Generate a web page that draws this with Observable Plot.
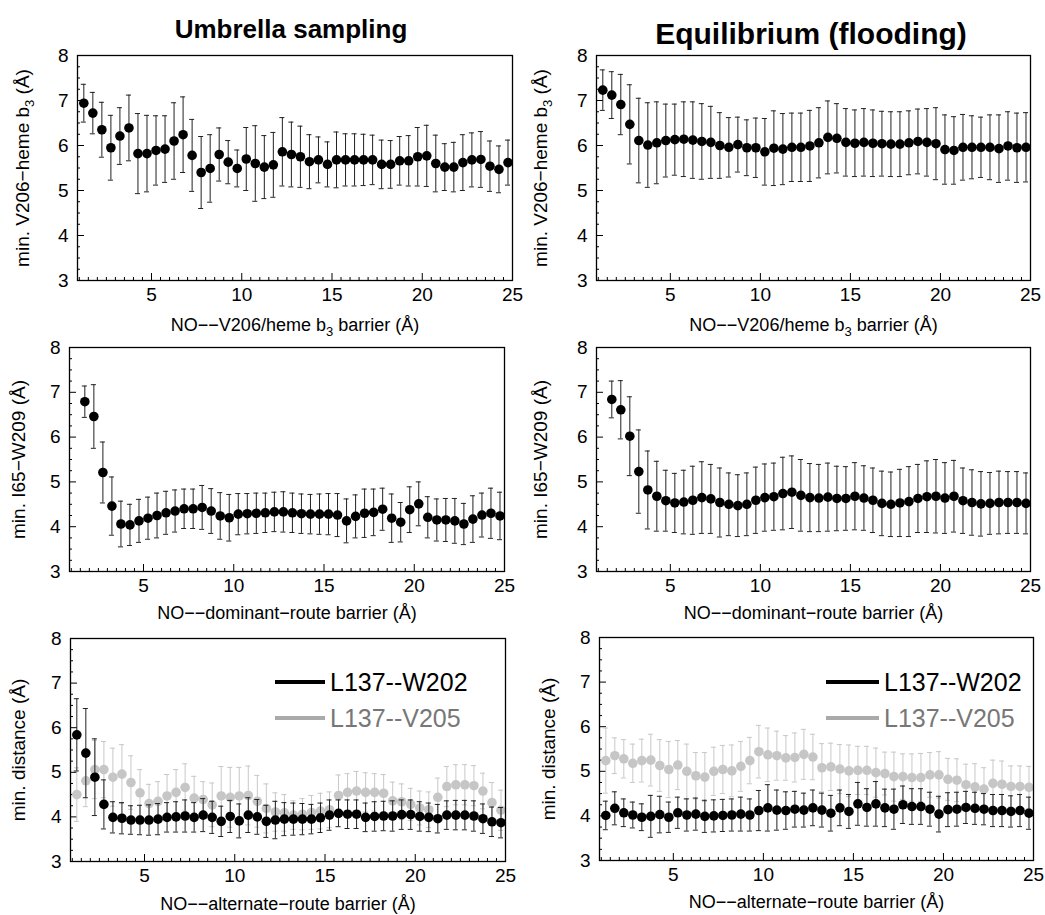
<!DOCTYPE html>
<html><head><meta charset="utf-8">
<script src="https://cdn.jsdelivr.net/npm/d3@7"></script>
<script src="https://cdn.jsdelivr.net/npm/@observablehq/plot@0.6"></script>
<style>
body{margin:0;background:#fff;font-family:"Liberation Sans",Arial,Helvetica,sans-serif;}
#chart{position:relative;width:1045px;height:915px;overflow:hidden;}
.title{position:absolute;font-weight:bold;transform:translate(-50%,-50%);white-space:nowrap;color:#000;}
.legline{position:absolute;height:4px;}
.legtxt{position:absolute;font-size:25px;transform:translateY(-50%);white-space:nowrap;}
</style></head><body><div id="chart"></div>
<script>
// ---- data ----
const barrierA = [1.25,1.75,2.25,2.75,3.25,3.75,4.25,4.75,5.25,5.75,6.25,6.75,7.25,7.75,8.25,8.75,9.25,9.75,10.25,10.75,11.25,11.75,12.25,12.75,13.25,13.75,14.25,14.75,15.25,15.75,16.25,16.75,17.25,17.75,18.25,18.75,19.25,19.75,20.25,20.75,21.25,21.75,22.25,22.75,23.25,23.75,24.25,24.75];
const barrierB = [1.75,2.25,2.75,3.25,3.75,4.25,4.75,5.25,5.75,6.25,6.75,7.25,7.75,8.25,8.75,9.25,9.75,10.25,10.75,11.25,11.75,12.25,12.75,13.25,13.75,14.25,14.75,15.25,15.75,16.25,16.75,17.25,17.75,18.25,18.75,19.25,19.75,20.25,20.75,21.25,21.75,22.25,22.75,23.25,23.75,24.25,24.75];

// Umbrella sampling: min. V206-heme b3
const usHemeMean = [6.94,6.72,6.35,5.95,6.21,6.39,5.82,5.82,5.89,5.92,6.10,6.24,5.78,5.40,5.49,5.80,5.63,5.49,5.70,5.60,5.52,5.57,5.86,5.80,5.75,5.64,5.68,5.58,5.68,5.68,5.68,5.68,5.68,5.58,5.58,5.66,5.66,5.75,5.77,5.60,5.52,5.52,5.62,5.68,5.69,5.54,5.47,5.62];
const usHemeErr  = [0.42,0.46,0.61,0.72,0.63,0.73,0.89,0.85,0.77,0.74,0.85,0.84,0.80,0.80,0.75,0.59,0.48,0.41,0.70,0.84,0.70,0.72,0.76,0.72,0.68,0.60,0.51,0.50,0.62,0.58,0.58,0.57,0.55,0.54,0.53,0.54,0.56,0.65,0.68,0.63,0.52,0.55,0.62,0.60,0.62,0.56,0.52,0.50];
// Equilibrium: min. V206-heme b3
const eqHemeMean = [7.23,7.12,6.91,6.47,6.11,6.01,6.06,6.11,6.13,6.14,6.12,6.09,6.07,6.00,5.96,6.02,5.95,5.95,5.86,5.94,5.92,5.96,5.96,5.99,6.06,6.18,6.16,6.07,6.05,6.07,6.05,6.04,6.03,6.03,6.06,6.09,6.07,6.04,5.91,5.89,5.96,5.96,5.96,5.96,5.93,5.99,5.95,5.96];
const eqHemeErr  = [0.45,0.52,0.67,0.88,0.94,0.94,0.91,0.81,0.79,0.83,0.85,0.84,0.80,0.73,0.66,0.61,0.62,0.66,0.74,0.83,0.79,0.76,0.76,0.79,0.78,0.81,0.77,0.75,0.74,0.75,0.74,0.72,0.72,0.72,0.71,0.72,0.75,0.80,0.77,0.75,0.73,0.70,0.67,0.72,0.75,0.76,0.77,0.77];
// Umbrella sampling: min. I65-W209
const usDomMean = [6.79,6.46,5.21,4.46,4.06,4.04,4.13,4.19,4.25,4.31,4.35,4.40,4.40,4.43,4.35,4.24,4.20,4.28,4.29,4.30,4.31,4.33,4.33,4.31,4.29,4.28,4.28,4.28,4.26,4.13,4.23,4.30,4.32,4.39,4.19,4.10,4.38,4.51,4.21,4.15,4.15,4.13,4.06,4.17,4.26,4.30,4.24];
const usDomErr  = [0.35,0.71,0.68,0.65,0.51,0.46,0.48,0.47,0.50,0.48,0.47,0.44,0.44,0.49,0.50,0.52,0.52,0.46,0.45,0.45,0.44,0.44,0.45,0.44,0.44,0.44,0.45,0.46,0.48,0.49,0.48,0.54,0.52,0.47,0.54,0.44,0.51,0.49,0.46,0.47,0.48,0.50,0.46,0.52,0.49,0.56,0.53];
// Equilibrium: min. I65-W209
const eqDomMean = [6.84,6.61,6.02,5.23,4.82,4.68,4.58,4.53,4.55,4.59,4.65,4.62,4.54,4.50,4.47,4.50,4.59,4.65,4.67,4.74,4.77,4.70,4.65,4.64,4.66,4.63,4.63,4.68,4.64,4.59,4.52,4.50,4.53,4.56,4.63,4.67,4.68,4.64,4.68,4.58,4.54,4.51,4.52,4.54,4.54,4.54,4.52];
const eqDomErr  = [0.41,0.65,0.88,0.93,0.87,0.78,0.68,0.66,0.71,0.76,0.80,0.77,0.77,0.70,0.69,0.70,0.74,0.75,0.75,0.81,0.81,0.80,0.76,0.75,0.76,0.72,0.71,0.75,0.72,0.72,0.72,0.72,0.75,0.78,0.76,0.80,0.82,0.79,0.80,0.73,0.73,0.72,0.69,0.70,0.69,0.69,0.68];
// Umbrella sampling: alternate route
const usW202Mean = [5.84,5.43,4.89,4.28,3.99,3.97,3.93,3.93,3.93,3.95,3.99,4.00,4.02,3.99,4.04,3.99,3.90,4.01,3.91,4.04,4.00,3.90,3.93,3.95,3.95,3.95,3.95,3.98,4.04,4.08,4.06,4.06,3.99,4.01,4.02,4.02,4.05,4.05,4.01,3.99,3.96,4.04,4.04,4.04,4.02,3.96,3.89,3.87];
const usW202Err  = [0.81,1.00,0.86,0.55,0.35,0.35,0.32,0.33,0.34,0.35,0.33,0.34,0.36,0.33,0.37,0.36,0.34,0.36,0.38,0.39,0.39,0.36,0.42,0.37,0.36,0.35,0.33,0.33,0.34,0.30,0.32,0.32,0.32,0.33,0.33,0.34,0.33,0.33,0.33,0.32,0.32,0.32,0.33,0.33,0.34,0.33,0.33,0.34];
const usV205Mean = [4.50,4.81,5.06,5.06,4.89,4.96,4.77,4.54,4.30,4.35,4.47,4.55,4.66,4.42,4.39,4.27,4.47,4.44,4.47,4.48,4.35,4.19,4.11,4.09,4.04,4.06,4.10,4.13,4.16,4.48,4.55,4.58,4.55,4.55,4.53,4.36,4.34,4.28,4.20,4.16,4.44,4.68,4.72,4.72,4.70,4.58,4.32,4.15];
const usV205Err  = [0.60,0.58,0.65,0.63,0.65,0.66,0.60,0.52,0.43,0.44,0.48,0.51,0.53,0.49,0.40,0.49,0.66,0.67,0.64,0.66,0.58,0.55,0.43,0.41,0.32,0.35,0.38,0.40,0.40,0.46,0.42,0.44,0.44,0.42,0.42,0.42,0.40,0.36,0.38,0.40,0.43,0.45,0.45,0.45,0.45,0.40,0.45,0.45];
// Equilibrium: alternate route
const eqW202Mean = [4.01,4.17,4.07,4.02,3.97,3.99,4.03,3.97,4.07,4.02,4.04,3.99,4.00,4.01,4.02,4.04,4.02,4.12,4.18,4.13,4.12,4.15,4.13,4.18,4.13,4.06,4.18,4.10,4.27,4.19,4.27,4.18,4.15,4.25,4.21,4.21,4.15,4.04,4.14,4.15,4.19,4.17,4.15,4.12,4.12,4.10,4.12,4.06];
const eqW202Err  = [0.32,0.37,0.31,0.29,0.30,0.47,0.41,0.34,0.35,0.36,0.36,0.36,0.36,0.36,0.36,0.38,0.36,0.45,0.52,0.45,0.42,0.40,0.38,0.40,0.38,0.40,0.40,0.38,0.48,0.42,0.50,0.42,0.45,0.42,0.40,0.40,0.38,0.40,0.38,0.38,0.36,0.36,0.35,0.36,0.36,0.35,0.36,0.36];
const eqV205Mean = [5.24,5.35,5.28,5.18,5.24,5.25,5.13,5.04,5.14,5.00,4.90,4.87,5.00,5.04,5.01,5.11,5.24,5.44,5.37,5.35,5.30,5.31,5.38,5.32,5.08,5.10,5.05,5.01,5.02,5.02,4.97,4.95,4.88,4.88,4.86,4.86,4.92,4.92,4.82,4.80,4.70,4.65,4.60,4.73,4.71,4.66,4.66,4.64];
const eqV205Err  = [0.73,0.40,0.43,0.43,0.48,0.58,0.58,0.63,0.55,0.61,0.52,0.55,0.54,0.54,0.58,0.56,0.52,0.59,0.60,0.55,0.50,0.55,0.56,0.51,0.54,0.53,0.55,0.58,0.54,0.54,0.55,0.48,0.55,0.51,0.53,0.54,0.50,0.52,0.47,0.48,0.46,0.52,0.48,0.52,0.52,0.46,0.46,0.47];

const xTicks = [5,10,15,20,25];
const yTicks = [3,4,5,6,7,8];
const titles = ["Umbrella sampling","Equilibrium (flooding)"];
const legendLabels = ["L137--W202","L137--V205"];

// ---- drawing ----
const chart = document.getElementById("chart");
const FONT = '"Liberation Sans", Arial, Helvetica, sans-serif';
const xMinor = d3.range(1, 25, 0.5).filter(v => v % 5 !== 0);
const yMinor = d3.range(3, 8, 0.25).filter(v => v % 1 !== 0);

function seriesMarks(xs, ys, es, dotColor, barColor) {
  const rows = xs.map((x, i) => ({x, y: ys[i], e: es[i]}));
  const cap = 0.14;
  return [
    Plot.ruleX(rows, {x: "x", y1: d => d.y - d.e, y2: d => d.y + d.e, stroke: barColor, strokeWidth: 1}),
    Plot.ruleY(rows, {y: d => d.y + d.e, x1: d => d.x - cap, x2: d => d.x + cap, stroke: barColor, strokeWidth: 1}),
    Plot.ruleY(rows, {y: d => d.y - d.e, x1: d => d.x - cap, x2: d => d.x + cap, stroke: barColor, strokeWidth: 1}),
    Plot.dot(rows, {x: "x", y: "y", r: 4.8, fill: dotColor, stroke: "none"})
  ];
}

function fixSubscript(svg) {
  const ns = "http://www.w3.org/2000/svg";
  svg.querySelectorAll("text").forEach(t => {
    const s = t.textContent;
    if (!s.includes("₃") || t.children.length > 1) return;
    const [a, b] = s.split("₃");
    while (t.firstChild) t.removeChild(t.firstChild);
    const t1 = document.createElementNS(ns, "tspan"); t1.textContent = a;
    const t2 = document.createElementNS(ns, "tspan"); t2.textContent = "3";
    t2.setAttribute("dy", "5"); t2.setAttribute("font-size", "13");
    const t3 = document.createElementNS(ns, "tspan"); t3.textContent = b;
    t3.setAttribute("dy", "-5");
    t.append(t1, t2, t3);
  });
}

function panel(cfg) {
  const [fx0, fy0, fx1, fy1] = cfg.frame;
  const iw = fx1 - fx0, ih = fy1 - fy0;
  const mL = 72, mR = 12, mT = 10, mB = 54;
  const marks = [
    Plot.ruleX(xMinor, {stroke: "#000", strokeWidth: 1, insetTop: ih - 3}),
    Plot.ruleX(xTicks, {stroke: "#000", strokeWidth: 1, insetTop: ih - 7}),
    Plot.ruleY(yMinor, {stroke: "#000", strokeWidth: 1, insetRight: iw - 3}),
    Plot.ruleY(yTicks, {stroke: "#000", strokeWidth: 1, insetRight: iw - 7})
  ];
  cfg.series.forEach(s => marks.push(...seriesMarks(cfg.xs, s.mean, s.err, s.dot, s.bar)));
  marks.push(
    Plot.frame({stroke: "#000", strokeWidth: 1.3}),
    Plot.axisX({ticks: xTicks, tickFormat: d3.format("d"), tickSize: 0, tickPadding: 7, fontSize: 19, label: null}),
    Plot.axisY({ticks: yTicks, tickFormat: d3.format("d"), tickSize: 0, tickPadding: 9, fontSize: 19, label: null}),
    Plot.text([cfg.xLabel], {frameAnchor: "bottom", dy: cfg.xdy, fontSize: 18, lineAnchor: "middle", textAnchor: "middle"}),
    Plot.text([cfg.yLabel], {frameAnchor: "left", dx: cfg.ydx, rotate: -90, fontSize: 19, lineAnchor: "middle", textAnchor: "middle"})
  );
  const svg = Plot.plot({
    width: iw + mL + mR, height: ih + mT + mB,
    marginLeft: mL, marginRight: mR, marginTop: mT, marginBottom: mB,
    x: {domain: [0.9, 25]}, y: {domain: [3, 8]},
    style: `background: transparent; overflow: visible; font-family: ${FONT}; font-size: 19px; color: #000; max-width: none;`,
    marks
  });
  svg.style.position = "absolute";
  svg.style.left = (fx0 - mL) + "px";
  svg.style.top = (fy0 - mT) + "px";
  fixSubscript(svg);
  chart.appendChild(svg);
}

const black = {dot: "#000", bar: "#222"};
const gray = {dot: "#c6c6c6", bar: "#c8c8c8"};
const hemeX = "NO\u2212\u2212V206/heme b₃ barrier (Å)";
const hemeY = "min. V206\u2212heme b₃ (Å)";
const domX = "NO\u2212\u2212dominant\u2212route barrier (Å)";
const domY = "min. I65\u2212W209 (Å)";
const altX = "NO\u2212\u2212alternate\u2212route barrier (Å)";
const altY = "min. distance (Å)";

panel({frame: [77, 55, 512, 280], xs: barrierA, xLabel: hemeX, yLabel: hemeY, xdy: 45, ydx: -55,
  series: [{mean: usHemeMean, err: usHemeErr, ...black}]});
panel({frame: [596, 55, 1030, 280], xs: barrierA, xLabel: hemeX, yLabel: hemeY, xdy: 45, ydx: -56,
  series: [{mean: eqHemeMean, err: eqHemeErr, ...black}]});
panel({frame: [69, 347, 504, 571], xs: barrierB, xLabel: domX, yLabel: domY, xdy: 42, ydx: -51,
  series: [{mean: usDomMean, err: usDomErr, ...black}]});
panel({frame: [596, 347, 1030, 571], xs: barrierB, xLabel: domX, yLabel: domY, xdy: 42, ydx: -56,
  series: [{mean: eqDomMean, err: eqDomErr, ...black}]});
panel({frame: [70, 638, 505, 861], xs: barrierA, xLabel: altX, yLabel: altY, xdy: 43, ydx: -52,
  series: [{mean: usV205Mean, err: usV205Err, ...gray}, {mean: usW202Mean, err: usW202Err, ...black}]});
panel({frame: [599, 637, 1033, 860], xs: barrierA, xLabel: altX, yLabel: altY, xdy: 42, ydx: -51,
  series: [{mean: eqV205Mean, err: eqV205Err, ...gray}, {mean: eqW202Mean, err: eqW202Err, ...black}]});

// titles
[[titles[0], 291, 29, 26], [titles[1], 811, 34, 30]].forEach(([t, x, y, fs]) => {
  const d = document.createElement("div");
  d.className = "title"; d.textContent = t;
  d.style.left = x + "px"; d.style.top = y + "px"; d.style.fontSize = fs + "px";
  chart.appendChild(d);
});

// legends
[[275, 330], [826, 884]].forEach(([lx, tx]) => {
  [[legendLabels[0], "#000", "#000", 682], [legendLabels[1], "#aaaaaa", "#777777", 718]].forEach(([lab, lc, tc, y]) => {
    const l = document.createElement("div");
    l.className = "legline"; l.style.left = lx + "px"; l.style.top = (y - 2) + "px";
    l.style.width = (tx - lx - 5) + "px"; l.style.background = lc;
    chart.appendChild(l);
    const t = document.createElement("div");
    t.className = "legtxt"; t.textContent = lab; t.style.left = tx + "px"; t.style.top = y + "px"; t.style.color = tc;
    chart.appendChild(t);
  });
});
</script>
</body></html>
